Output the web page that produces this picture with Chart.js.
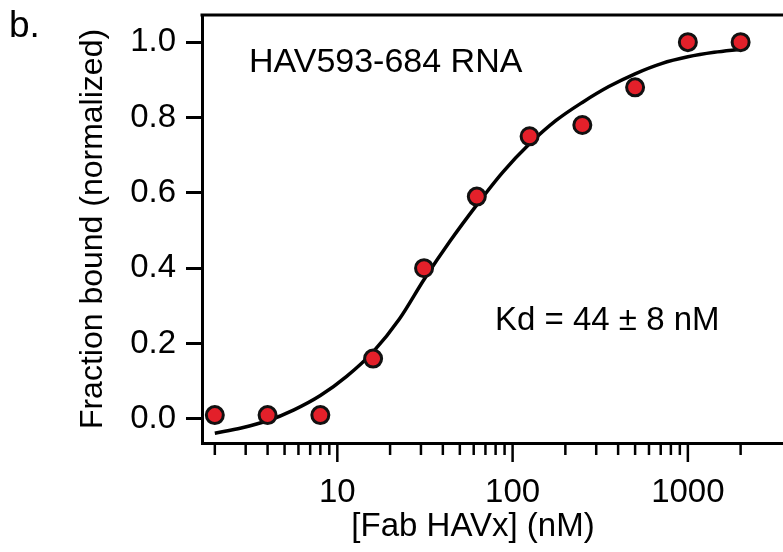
<!DOCTYPE html>
<html>
<head>
<meta charset="utf-8">
<script src="https://cdn.jsdelivr.net/npm/chart.js@4.4.1/dist/chart.umd.min.js"></script>
<style>
  body { margin: 0; background: #fff; overflow: hidden; }
  canvas { display: block; }
</style>
</head>
<body>
<canvas id="myChart" width="783" height="552"></canvas>
<script>
// measured points (two-fold dilution series)
const fabConc = [2, 4, 8, 16, 31.25, 62.5, 125, 250, 500, 1000, 2000];
const fracBound = [0.01, 0.01, 0.01, 0.16, 0.40, 0.59, 0.75, 0.78, 0.88, 1.0, 1.0];

// fitted curve
const fitConc = [2, 2.83, 4, 5.66, 8, 11.3, 16, 22.6, 31.25, 44, 62.5, 88, 125, 177, 250, 354, 500, 707, 1000, 1414, 2000];
const fitBound = [-0.038, -0.024, -0.005, 0.024, 0.062, 0.113, 0.178, 0.265, 0.37, 0.472, 0.568, 0.655, 0.73, 0.792, 0.84, 0.882, 0.916, 0.943, 0.961, 0.973, 0.981];

// axis ticks
const xMajorTicks = [10, 100, 1000];
const xMinorTicks = [2, 3, 4, 5, 6, 7, 8, 9, 20, 30, 40, 50, 60, 70, 80, 90, 200, 300, 400, 500, 600, 700, 800, 900, 2000];
const yTicks = [0, 0.2, 0.4, 0.6, 0.8, 1.0];

const FONT = "'Liberation Sans', Arial, sans-serif";

let ctx = document.getElementById("myChart");

const toXY = (xs, ys) => xs.map((x, i) => ({ x: x, y: ys[i] }));

var config = {
  type: "scatter",
  data: {
    datasets: [
      {
        data: toXY(fabConc, fracBound),
        pointRadius: 8.5,
        pointBorderWidth: 3,
        pointBackgroundColor: "#e3202a",
        pointBorderColor: "#111",
        showLine: false,
        order: 0,
      },
      {
        data: toXY(fitConc, fitBound),
        showLine: true,
        pointRadius: 0,
        borderColor: "#000",
        borderWidth: 3.5,
        cubicInterpolationMode: "monotone",
        order: 1,
      },
    ],
  },
  options: {
    responsive: false,
    animation: false,
    layout: { autoPadding: false, padding: { left: 0, top: 15, right: 0, bottom: 0 } },
    scales: {
      x: {
        type: "logarithmic",
        min: 1.69,
        max: 3490,
        afterBuildTicks: (scale) => {
          const all = xMinorTicks.concat(xMajorTicks).sort((a, b) => a - b);
          scale.ticks = all.map((v) => ({ value: v, major: xMajorTicks.includes(v) }));
        },
        afterFit: (scale) => {
          scale.height = 109;
          scale.paddingLeft = 0;
          scale.paddingRight = 0;
        },
        border: { display: true, color: "#000", width: 3 },
        grid: {
          drawOnChartArea: false,
          drawTicks: true,
          tickLength: 18,
          tickColor: "rgba(0,0,0,0)",
        },
        ticks: {
          autoSkip: false,
          maxRotation: 0,
          padding: 12,
          color: "#000",
          font: { family: FONT, size: 33 },
          callback: (v) => (xMajorTicks.includes(v) ? String(v) : ""),
        },
      },
      y: {
        min: -0.064,
        max: 1.072,
        afterBuildTicks: (scale) => {
          scale.ticks = yTicks.map((v) => ({ value: v }));
        },
        afterFit: (scale) => {
          scale.width = 202;
          scale.paddingTop = 0;
          scale.paddingBottom = 0;
        },
        border: { display: true, color: "#000", width: 3 },
        grid: {
          drawOnChartArea: false,
          drawTicks: true,
          tickLength: 16,
          tickWidth: 3,
          tickColor: "#000",
        },
        ticks: {
          padding: 10,
          color: "#000",
          font: { family: FONT, size: 33 },
          callback: (v) => v.toFixed(1),
        },
        title: {
          display: true,
          text: "Fraction bound (normalized)",
          color: "#000",
          font: { family: FONT, size: 32 },
          padding: { top: 74, bottom: 0 },
        },
      },
    },
    plugins: {
      legend: { display: false },
      tooltip: { enabled: false },
    },
  },
  plugins: [
    {
      afterDraw: function (chart) {
        const c = chart.ctx;
        const area = chart.chartArea;
        const xAxis = chart.scales.x;

        c.save();
        // top frame line
        c.strokeStyle = "#000";
        c.lineWidth = 3;
        c.beginPath();
        c.moveTo(area.left - 1.5, area.top);
        c.lineTo(area.right, area.top);
        c.stroke();

        // log ticks: long for decades, short in between
        c.lineWidth = 2.5;
        for (let i = 0; i < xAxis.ticks.length; i++) {
          const t = xAxis.ticks[i];
          const px = xAxis.getPixelForValue(t.value);
          const len = t.major ? 19 : 12;
          c.beginPath();
          c.moveTo(px, area.bottom);
          c.lineTo(px, area.bottom + len);
          c.stroke();
        }

        // texts
        c.fillStyle = "#000";
        c.textBaseline = "alphabetic";
        c.textAlign = "left";
        c.font = "37px " + FONT;
        c.fillText("b.", 9, 37);
        c.font = "34px " + FONT;
        c.fillText("HAV593-684 RNA", 249, 72);
        c.font = "33px " + FONT;
        c.fillText("Kd = 44 ± 8 nM", 495, 330);
        c.textAlign = "center";
        c.fillText("[Fab HAVx] (nM)", 473, 536);
        c.restore();
      },
    },
  ],
};

const myChart = new Chart(ctx, config);
</script>
</body>
</html>
